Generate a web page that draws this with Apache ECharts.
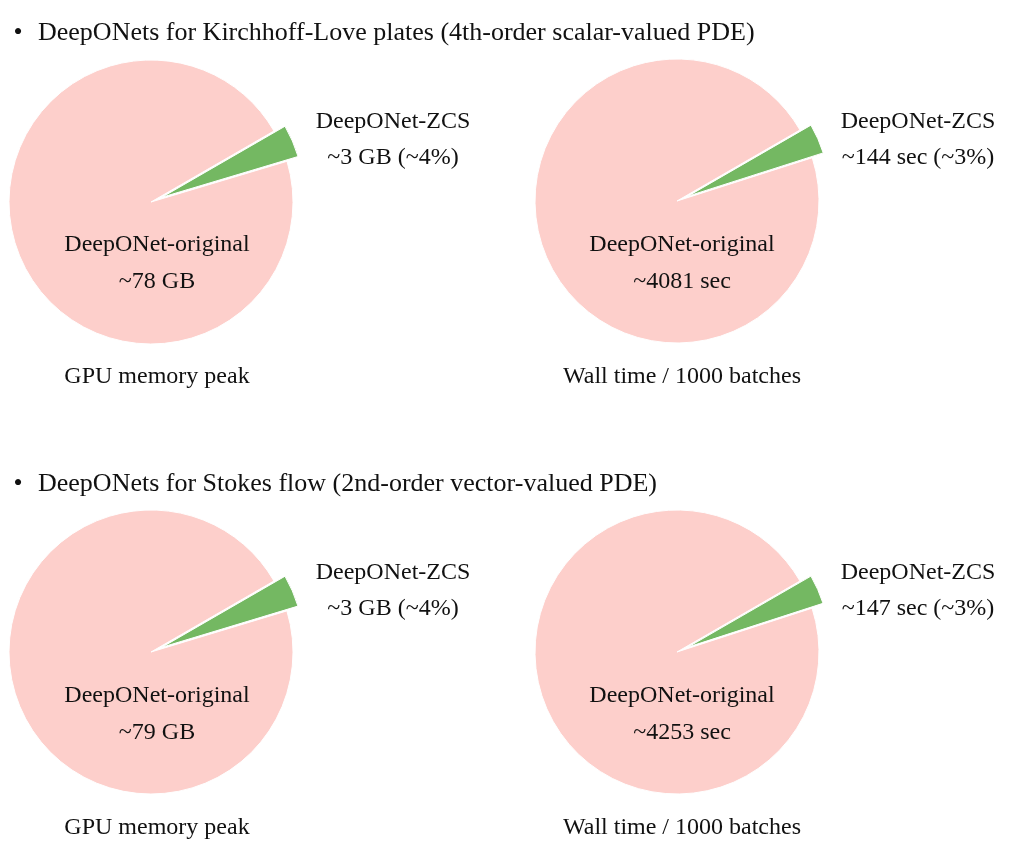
<!DOCTYPE html>
<html>
<head>
<meta charset="utf-8">
<script src="https://cdn.jsdelivr.net/npm/echarts@6/dist/echarts.min.js"></script>
<style>
html,body{margin:0;padding:0;background:#fff;}
#chart{width:1010px;height:850px;}
</style>
</head>
<body>
<div id="chart"></div>
<script>
// ---- data ----
const sectionTitles = [
  'DeepONets for Kirchhoff-Love plates (4th-order scalar-valued PDE)',
  'DeepONets for Stokes flow (2nd-order vector-valued PDE)'
];
const metricNames = ['GPU memory peak', 'Wall time / 1000 batches'];
const sliceNames = ['DeepONet-ZCS', 'DeepONet-original'];
const zcsValues = [3, 144, 3, 147];
const originalValues = [78, 4081, 79, 4253];
const units = ['GB', 'sec', 'GB', 'sec'];

// ---- layout ----
const FONT = '"Liberation Serif", "DejaVu Serif", serif';
const FS = 24;
const HFS = 26;
const PINK = '#FDCFCB';
const GREEN = '#74B862';
const R = 142;
const EXPLODE = 12;
const START = 30;
const centers = [[151, 202], [677, 201], [151, 652], [677, 652]];

const chart = echarts.init(document.getElementById('chart'), null, {renderer: 'canvas'});

const series = [];
const graphics = [];

function txt(x, y, s, align, size) {
  graphics.push({
    type: 'text', x: x, y: y, silent: true, z: 100,
    style: {text: s, fill: '#111', font: (size || FS) + 'px ' + FONT, textAlign: align || 'center', textVerticalAlign: 'middle'}
  });
}

sectionTitles.forEach((t, i) => {
  const y = 33 + i * 451;
  txt(18, y, '•', 'center', HFS);
  txt(38, y, t, 'left', HFS);
});

const TRANSPARENT = 'rgba(0,0,0,0)';

for (let k = 0; k < 4; k++) {
  const c = centers[k];
  const total = zcsValues[k] + originalValues[k];
  // mid-angle of the ZCS slice (degrees, math convention), used to explode it
  const mid = (START - 180 * zcsValues[k] / total) * Math.PI / 180;
  const cz = [c[0] + EXPLODE * Math.cos(mid), c[1] - EXPLODE * Math.sin(mid)];
  const base = {
    type: 'pie', radius: R, startAngle: START, clockwise: true,
    silent: true, animation: false,
    label: {show: false}, labelLine: {show: false},
    emphasis: {disabled: true}
  };
  // original slice
  series.push(Object.assign({}, base, {
    center: c,
    itemStyle: {borderColor: '#fff', borderWidth: 1},
    data: [
      {name: sliceNames[0], value: zcsValues[k], itemStyle: {color: TRANSPARENT, borderWidth: 0}},
      {name: sliceNames[1], value: originalValues[k], itemStyle: {color: PINK}}
    ]
  }));
  // exploded ZCS slice
  series.push(Object.assign({}, base, {
    center: cz,
    itemStyle: {borderColor: '#fff', borderWidth: 1},
    data: [
      {name: sliceNames[0], value: zcsValues[k], itemStyle: {color: GREEN}},
      {name: sliceNames[1], value: originalValues[k], itemStyle: {color: TRANSPARENT, borderWidth: 0}}
    ]
  }));
  const pct = Math.round(100 * zcsValues[k] / total);
  const col = k % 2;
  const dy = k >= 2 ? 451 : 0;
  const zx = col ? 918 : 393;
  const ox = col ? 682 : 157;
  txt(zx, 122 + dy, sliceNames[0]);
  txt(zx, 158 + dy, '~' + zcsValues[k] + ' ' + units[k] + ' (~' + pct + '%)');
  txt(ox, 245 + dy, sliceNames[1]);
  txt(ox, 282 + dy, '~' + originalValues[k] + ' ' + units[k]);
  txt(ox, 377 + dy, metricNames[col]);
}

chart.setOption({
  backgroundColor: '#fff',
  animation: false,
  series: series,
  graphic: graphics
});
</script>
</body>
</html>
